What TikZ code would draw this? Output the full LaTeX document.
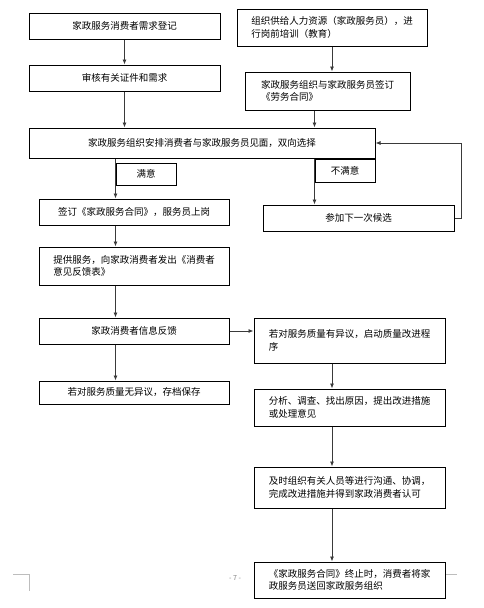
\documentclass[tikz,border=0pt]{standalone}
\usepackage{fontspec}
\setmainfont{Noto Sans CJK SC}
\usepackage{xcolor}
\usetikzlibrary{arrows.meta}

\begin{document}
\begin{tikzpicture}[x=1pt,y=-1pt,
  mybox/.style 2 args={draw,line width=1pt,minimum width=#1,minimum height=#2,inner sep=0pt,align=left,font=\fontsize{9.5}{12.5}\selectfont},
  myarrow/.style={draw=arrowgray,line width=0.8pt,-{Latex[length=5pt,width=4pt]}},
  mymark/.style={draw=markgray,line width=0.7pt}]
\definecolor{arrowgray}{HTML}{3A3A3A}
\definecolor{markgray}{HTML}{BDBDBD}
\useasboundingbox (0,0) rectangle (483,608);
\node [mybox={191}{26}] (reg) at (124.5,26) {家政服务消费者需求登记};
\node [mybox={191}{26}] (check) at (124.5,78) {审核有关证件和需求};
\node [mybox={190}{37}] (supply) at (332,27.5) {组织供给人力资源（家政服务员），进\\行岗前培训（教育）};
\node [mybox={165}{38}] (labour) at (327.5,91) {家政服务组织与家政服务员签订\\《劳务合同》};
\node [mybox={346}{30}] (meet) at (202,143) {家政服务组织安排消费者与家政服务员见面，双向选择};
\node [mybox={60}{22}] (ok) at (146,174) {满意};
\node [mybox={60}{23}] (notok) at (345,170.5) {不满意};
\node [mybox={191}{26}] (next) at (358.5,218) {参加下一次候选};
\node [mybox={190}{26}] (sign) at (134,212) {签订《家政服务合同》，服务员上岗};
\node [mybox={190}{38}] (serve) at (134,266) {提供服务，向家政消费者发出《消费者\\意见反馈表》};
\node [mybox={190}{26}] (feedback) at (134,331) {家政消费者信息反馈};
\node [mybox={191}{45}] (objection) at (349.5,340.5) {若对服务质量有异议，启动质量改进程\\序};
\node [mybox={190}{23}] (noobj) at (134,392.5) {若对服务质量无异议，存档保存};
\node [mybox={191}{37}] (analyse) at (349.5,407.5) {分析、调查、找出原因，提出改进措施\\或处理意见};
\node [mybox={191}{41}] (coord) at (349.5,487.5) {及时组织有关人员等进行沟通、协调，\\完成改进措施并得到家政消费者认可};
\node [mybox={191}{36}] (finish) at (349.5,580) {《家政服务合同》终止时，消费者将家\\政服务员送回家政服务组织};
\draw [myarrow] (reg) -- (check);
\draw [myarrow] (check.south) -- (check.south |- meet.north);
\draw [myarrow] (supply.south) -- (supply.south |- labour.north);
\draw [myarrow] (labour.south -| notok.west) -- (meet.north -| notok.west);
\draw [myarrow] (meet.south -| ok.west) -- (sign.north -| ok.west);
\draw [myarrow] (meet.south -| notok.west) -- (next.north -| notok.west);
\draw [myarrow] (next.east) -- ++(7,0) |- (meet.east);
\draw [myarrow] (sign.south -| ok.west) -- (serve.north -| ok.west);
\draw [myarrow] (serve.south -| ok.west) -- (feedback.north -| ok.west);
\draw [myarrow] (feedback.south -| ok.west) -- (noobj.north -| ok.west);
\draw [myarrow] (feedback) -- (objection.west |- feedback.east);
\draw [myarrow] (objection.south -| supply.south) -- (analyse.north -| supply.south);
\draw [myarrow] (analyse.south -| supply.south) -- (coord.north -| supply.south);
\draw [myarrow] (coord.south -| supply.south) -- (finish.north -| supply.south);
\draw [mymark] (13,574) -- (29,574) -- (29,591);
\draw [mymark] (446,574) -- (457,574);
\node [text=gray,font=\fontsize{7}{8}\selectfont] (pagenum) at (235,578) {- 7 -};
\end{tikzpicture}
\end{document}
